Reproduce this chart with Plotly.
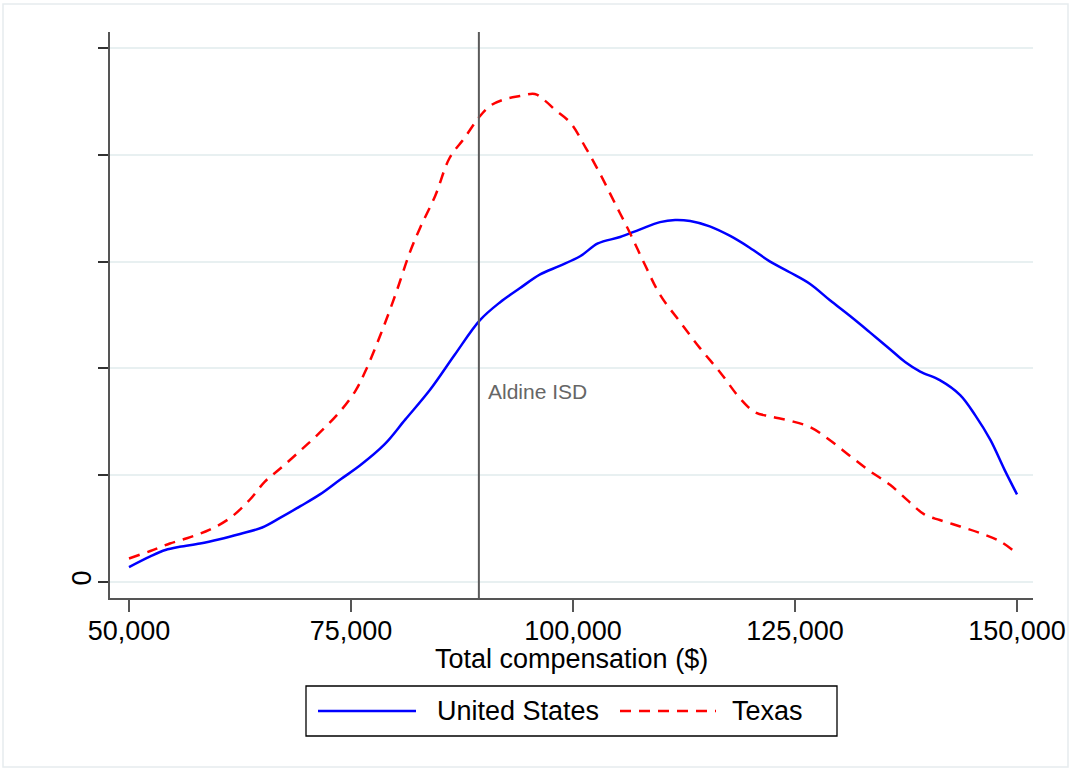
import plotly.graph_objects as go

# Kernel density estimates (arbitrary density units; y-axis ticks unlabeled except 0)
us_x = [50000, 52400, 54100, 55700, 58000, 60200, 62500, 65000, 67000, 69300, 71500, 73800,
        76000, 78800, 81100, 83900, 86700, 89500, 91800, 94000, 96300, 98500, 100800, 102800,
        105300, 107500, 109800, 111500, 113200, 115400, 117700, 119900, 122200, 124400, 126700,
        128900, 131200, 133400, 135700, 137400, 139100, 141300, 143600, 145300, 147000, 148600, 150000]
us_y = [0.14, 0.24, 0.30, 0.33, 0.36, 0.40, 0.45, 0.51, 0.60, 0.71, 0.82, 0.96,
        1.09, 1.29, 1.52, 1.80, 2.13, 2.45, 2.62, 2.75, 2.88, 2.96, 3.05, 3.17,
        3.23, 3.30, 3.37, 3.39, 3.38, 3.33, 3.24, 3.13, 3.00, 2.90, 2.79,
        2.64, 2.49, 2.34, 2.18, 2.06, 1.97, 1.89, 1.75, 1.56, 1.33, 1.05, 0.82]

tx_x = [50000, 52400, 54600, 56900, 59100, 61400, 63600, 65300, 67000, 69300, 71500, 73800,
        75500, 76600, 78300, 80000, 81600, 82800, 84500, 86100, 87800, 89400, 90700, 92300,
        94000, 95700, 96800, 98000, 99700, 101400, 103000, 104700, 106400, 108100, 109800,
        112100, 114300, 116600, 118800, 120500, 122200, 124400, 126700, 128900, 131200,
        133400, 135700, 138000, 139600, 141300, 143600, 145800, 148100, 149800]
tx_y = [0.22, 0.29, 0.36, 0.42, 0.49, 0.60, 0.77, 0.94, 1.06, 1.23, 1.40, 1.60,
        1.79, 1.97, 2.31, 2.69, 3.08, 3.32, 3.62, 3.97, 4.16, 4.35, 4.46, 4.52,
        4.55, 4.57, 4.51, 4.42, 4.30, 4.07, 3.83, 3.55, 3.27, 2.97, 2.69,
        2.43, 2.19, 1.96, 1.72, 1.59, 1.55, 1.51, 1.45, 1.33, 1.18,
        1.04, 0.91, 0.74, 0.63, 0.58, 0.52, 0.46, 0.38, 0.28]

series_names = ["United States", "Texas"]
series_colors = ["#0000ff", "#ff0000"]
series_dash = ["solid", "11px,8px"]

x_ticks = [50000, 75000, 100000, 125000, 150000]
x_tick_labels = ["50,000", "75,000", "100,000", "125,000", "150,000"]
y_ticks = [0, 1, 2, 3, 4, 5]
y_tick_labels = ["0", "", "", "", "", ""]
x_title = "Total compensation ($)"

aldine_x = 89400
aldine_label = "Aldine ISD"
aldine_label_y = 1.78

FONT = "Liberation Sans, Arial, sans-serif"
FS = 27

W, H = 1073, 771
L, R, T, B = 110, 40, 32, 173
pw, ph = W - L - R, H - T - B
def px2paper(px, py):
    return (px - L) / pw, (H - B - py) / ph

fig = go.Figure()
for xs, ys, nm, col, dsh in [(us_x, us_y, series_names[0], series_colors[0], series_dash[0]),
                             (tx_x, tx_y, series_names[1], series_colors[1], series_dash[1])]:
    fig.add_trace(go.Scatter(x=xs, y=ys, mode="lines", name=nm, showlegend=False,
                             line=dict(color=col, width=2.5, dash=dsh), line_shape="spline"))

fig.add_vline(x=aldine_x, line=dict(color="#5a5a5a", width=2))
fig.add_annotation(x=aldine_x, y=aldine_label_y, text=aldine_label, showarrow=False,
                   xanchor="left", xshift=7, font=dict(family=FONT, size=21, color="#666666"))

# outer graph-region frame
x0, y0 = px2paper(3, 767)
x1, y1 = px2paper(1068, 4)
fig.add_shape(type="rect", xref="paper", yref="paper", x0=x0, y0=y0, x1=x1, y1=y1,
              line=dict(color="#e6ecee", width=1.5), layer="below")

# x axis title
_, ty_ = px2paper(573, 659)
fig.add_annotation(xref="paper", yref="paper", x=0.5, y=ty_, text=x_title, showarrow=False,
                   xanchor="center", yanchor="middle", font=dict(family=FONT, size=FS, color="black"))

# legend (drawn as a Stata-style key box)
bx0, by0 = px2paper(306, 736)
bx1, by1 = px2paper(837, 686)
fig.add_shape(type="rect", xref="paper", yref="paper", x0=bx0, y0=by0, x1=bx1, y1=by1,
              line=dict(color="black", width=1.3), fillcolor="white")
legend_layout = [(318, 416, 435), (620, 716, 730)]
_, ly = px2paper(0, 711)
for (s0, s1, tx), nm, col, dsh in zip(legend_layout, series_names, series_colors, series_dash):
    a, _ = px2paper(s0, 0)
    b, _ = px2paper(s1, 0)
    t, _ = px2paper(tx, 0)
    fig.add_shape(type="line", xref="paper", yref="paper", x0=a, x1=b, y0=ly, y1=ly,
                  line=dict(color=col, width=2.5, dash=dsh))
    fig.add_annotation(xref="paper", yref="paper", x=t, y=ly, text=nm, showarrow=False,
                       xanchor="left", yanchor="middle", font=dict(family=FONT, size=FS, color="black"))

fig.update_layout(
    width=W, height=H,
    margin=dict(l=L, r=R, t=T, b=B, autoexpand=False),
    paper_bgcolor="white", plot_bgcolor="white",
    font=dict(family=FONT, size=FS, color="black"),
    showlegend=False,
    xaxis=dict(range=[47860, 151800], tickvals=x_ticks, ticktext=x_tick_labels, automargin=False,
               showgrid=False, zeroline=False, showline=True, linecolor="#555555", linewidth=2,
               ticklabelstandoff=-4,
               ticks="outside", ticklen=12, tickwidth=2, tickcolor="#555555"),
    yaxis=dict(range=[-0.15, 5.15], tickvals=y_ticks, ticktext=y_tick_labels, automargin=False,
               showgrid=True, gridcolor="#e8f0f1", gridwidth=2, zeroline=False,
               showline=True, linecolor="#555555", linewidth=2, ticklabelstandoff=-4,
               ticks="outside", ticklen=10, tickwidth=2, tickcolor="#333333", tickangle=-90),
)

fig.write_html("out.html", config={"displayModeBar": False},
               post_script="document.body.style.margin='0px';")
